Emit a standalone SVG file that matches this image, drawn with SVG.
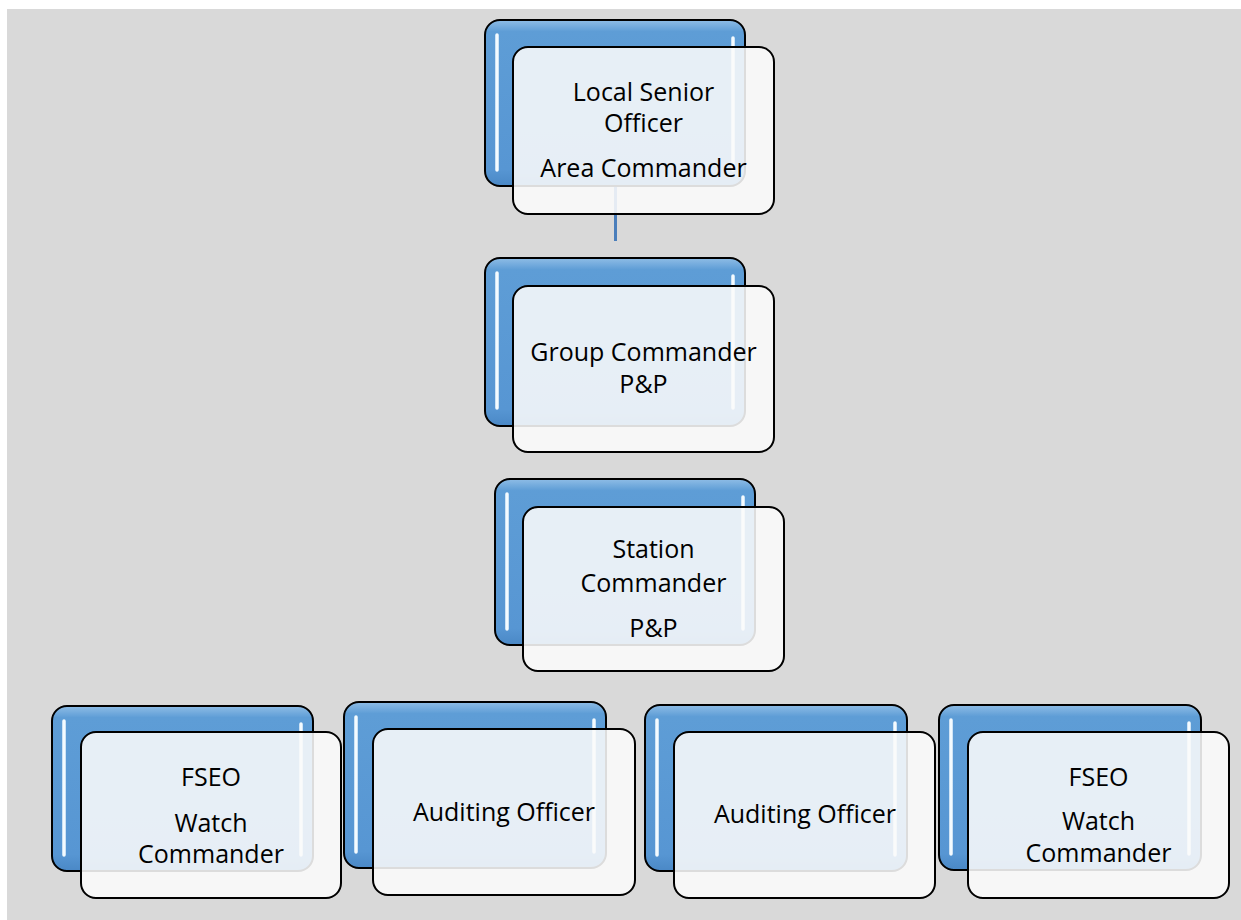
<svg xmlns="http://www.w3.org/2000/svg" width="1241" height="920" viewBox="0 0 1241 920">
<defs>
<linearGradient id="blue" x1="0" y1="0" x2="0" y2="1">
<stop offset="0" stop-color="#8fbde6"/>
<stop offset="0.07" stop-color="#5e9dd6"/>
<stop offset="0.9" stop-color="#5796d3"/>
<stop offset="1" stop-color="#4a88c6"/>
</linearGradient>
<filter id="glow" x="-3" y="-0.2" width="7" height="1.4"><feGaussianBlur stdDeviation="2"/></filter>
</defs>
<style>
.back{fill:url(#blue);stroke:#000;stroke-width:2}
.front{fill:#fbfbfb;fill-opacity:0.88;stroke:#000;stroke-width:2}
.hlg{stroke:#d6efff;stroke-width:8;stroke-linecap:round;filter:url(#glow)}
.hl{stroke:#f4fbff;stroke-width:3.5;stroke-linecap:round}
.t{font-family:"Open Sans","Noto Sans",sans-serif;font-size:25px;text-anchor:middle;fill:#000}
.conn{stroke:#4a7ebb;stroke-width:3;fill:none}
</style>
<rect x="0" y="0" width="1241" height="920" fill="#ffffff"/>
<rect x="7" y="9" width="1234" height="911" fill="#d9d9d9"/>
<g id="connectors">
<line class="conn" x1="615.5" y1="186" x2="615.5" y2="241"/>
</g>
<g id="node-local-senior-officer">
<rect class="back" x="485" y="20" width="260" height="166" rx="15"/>
<line class="hlg" x1="497" y1="35" x2="497" y2="170"/><line class="hl" x1="497" y1="35" x2="497" y2="170"/>
<line class="hlg" x1="733" y1="38" x2="733" y2="170"/><line class="hl" x1="733" y1="38" x2="733" y2="170"/>
<rect class="front" x="513" y="47" width="261" height="167" rx="15"/>
<text class="t" x="643.5" y="101">Local Senior</text>
<text class="t" x="643.5" y="132">Officer</text>
<text class="t" x="643.5" y="177">Area Commander</text>
</g>
<g id="node-group-commander">
<rect class="back" x="485" y="258" width="260" height="168" rx="15"/>
<line class="hlg" x1="497" y1="273" x2="497" y2="408"/><line class="hl" x1="497" y1="273" x2="497" y2="408"/>
<line class="hlg" x1="733" y1="276" x2="733" y2="408"/><line class="hl" x1="733" y1="276" x2="733" y2="408"/>
<rect class="front" x="513" y="286" width="261" height="166" rx="15"/>
<text class="t" x="643.5" y="361">Group Commander</text>
<text class="t" x="643.5" y="393">P&amp;P</text>
</g>
<g id="node-station-commander">
<rect class="back" x="495" y="479" width="260" height="166" rx="15"/>
<line class="hlg" x1="507" y1="494" x2="507" y2="629"/><line class="hl" x1="507" y1="494" x2="507" y2="629"/>
<line class="hlg" x1="743" y1="497" x2="743" y2="629"/><line class="hl" x1="743" y1="497" x2="743" y2="629"/>
<rect class="front" x="523" y="507" width="261" height="164" rx="15"/>
<text class="t" x="653.5" y="558">Station</text>
<text class="t" x="653.5" y="592">Commander</text>
<text class="t" x="653.5" y="637">P&amp;P</text>
</g>
<g id="node-fseo-1">
<rect class="back" x="52" y="706" width="261" height="165" rx="15"/>
<line class="hlg" x1="64" y1="721" x2="64" y2="855"/><line class="hl" x1="64" y1="721" x2="64" y2="855"/>
<line class="hlg" x1="301" y1="724" x2="301" y2="855"/><line class="hl" x1="301" y1="724" x2="301" y2="855"/>
<rect class="front" x="81" y="732" width="260" height="166" rx="15"/>
<text class="t" x="211" y="786">FSEO</text>
<text class="t" x="211" y="832">Watch</text>
<text class="t" x="211" y="863">Commander</text>
</g>
<g id="node-auditing-1">
<rect class="back" x="344" y="702" width="262" height="166" rx="15"/>
<line class="hlg" x1="356" y1="717" x2="356" y2="852"/><line class="hl" x1="356" y1="717" x2="356" y2="852"/>
<line class="hlg" x1="594" y1="720" x2="594" y2="852"/><line class="hl" x1="594" y1="720" x2="594" y2="852"/>
<rect class="front" x="373" y="729" width="262" height="166" rx="15"/>
<text class="t" x="504" y="821">Auditing Officer</text>
</g>
<g id="node-auditing-2">
<rect class="back" x="645" y="705" width="262" height="166" rx="15"/>
<line class="hlg" x1="657" y1="720" x2="657" y2="855"/><line class="hl" x1="657" y1="720" x2="657" y2="855"/>
<line class="hlg" x1="895" y1="723" x2="895" y2="855"/><line class="hl" x1="895" y1="723" x2="895" y2="855"/>
<rect class="front" x="674" y="732" width="261" height="166" rx="15"/>
<text class="t" x="805" y="823">Auditing Officer</text>
</g>
<g id="node-fseo-2">
<rect class="back" x="939" y="705" width="262" height="165" rx="15"/>
<line class="hlg" x1="951" y1="720" x2="951" y2="854"/><line class="hl" x1="951" y1="720" x2="951" y2="854"/>
<line class="hlg" x1="1189" y1="723" x2="1189" y2="854"/><line class="hl" x1="1189" y1="723" x2="1189" y2="854"/>
<rect class="front" x="968" y="732" width="261" height="166" rx="15"/>
<text class="t" x="1098.5" y="786">FSEO</text>
<text class="t" x="1098.5" y="830">Watch</text>
<text class="t" x="1098.5" y="862">Commander</text>
</g>
</svg>
